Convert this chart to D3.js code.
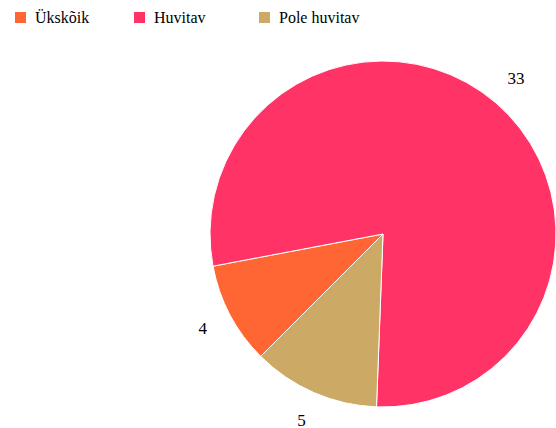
<!DOCTYPE html>
<meta charset="utf-8">
<title>Pie</title>
<style>
    body { margin: 0; background: #fff; }
    text { font-family: "Liberation Serif", "Times New Roman", serif; }
</style>
<body>
    <div id="chart"></div>
    <script src="https://d3js.org/d3.v7.min.js"></script>
    <script>
        // chart data
        var categories = ["Ükskõik", "Huvitav", "Pole huvitav"];
        var values = [4, 33, 5];
        var colors = ["#FF6633", "#FF3366", "#CCAA66"];

        var width = 556, height = 428;
        var cx = 383, cy = 234, radius = 173, labelRadius = 204;

        var svg = d3.select("#chart")
            .append("svg")
            .attr("width", width)
            .attr("height", height);

        var color = d3.scaleOrdinal().domain(categories).range(colors);

        // legend
        var legendX = [15, 134, 259];
        var legend = svg.selectAll(".legend")
            .data(categories)
            .enter().append("g")
            .attr("class", "legend")
            .attr("transform", function (d, i) { return "translate(" + legendX[i] + ",12)"; });
        legend.append("rect")
            .attr("width", 11)
            .attr("height", 11)
            .attr("fill", function (d) { return color(d); });
        legend.append("text")
            .attr("x", 20)
            .attr("y", 11)
            .attr("font-size", "16px")
            .attr("fill", "#000")
            .text(function (d) { return d; });

        // pie
        var data = categories.map(function (c, i) { return { name: c, value: values[i] }; });
        var pie = d3.pie()
            .sort(null)
            .value(function (d) { return d.value; })
            .startAngle(Math.PI * 1.25)
            .endAngle(Math.PI * 3.25);
        var arc = d3.arc().innerRadius(0).outerRadius(radius);
        var labelArc = d3.arc().innerRadius(labelRadius).outerRadius(labelRadius);

        var g = svg.append("g")
            .attr("transform", "translate(" + cx + "," + cy + ")");

        g.selectAll("path")
            .data(pie(data))
            .enter().append("path")
            .attr("d", arc)
            .attr("fill", function (d) { return color(d.data.name); })
            .attr("stroke", "#fff")
            .attr("stroke-width", 1);

        g.selectAll(".label")
            .data(pie(data))
            .enter().append("text")
            .attr("class", "label")
            .attr("transform", function (d) { return "translate(" + labelArc.centroid(d) + ")"; })
            .attr("dy", "0.3em")
            .attr("text-anchor", "middle")
            .attr("font-size", "17px")
            .attr("fill", "#000")
            .text(function (d) { return d.data.value; });
    </script>
</body>
